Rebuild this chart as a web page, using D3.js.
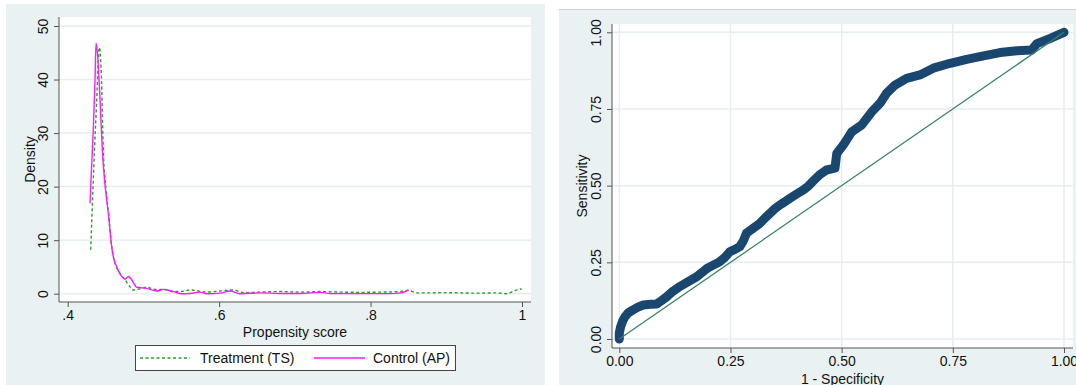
<!DOCTYPE html>
<html>
<head>
<meta charset="utf-8">
<script src="https://cdn.jsdelivr.net/npm/d3@7"></script>
<style>
  body { margin: 0; background: #fff; }
  svg { display: block; font-family: "Liberation Sans", Arial, sans-serif; }
</style>
</head>
<body>
<svg id="chart" width="1076" height="385"></svg>
<script>
// left panel: kernel density of propensity score
const treatScore = [0.4304, 0.4328, 0.4354, 0.4384, 0.4417, 0.4444, 0.4470, 0.4506, 0.4539, 0.4581,
  0.4625, 0.4691, 0.4757, 0.4823, 0.4863, 0.4915, 0.5044, 0.5153, 0.5263, 0.5395, 0.5497, 0.5616,
  0.5836, 0.6012, 0.6188, 0.6320, 0.654, 0.6805, 0.707, 0.7333, 0.76, 0.786, 0.8127, 0.8392, 0.85,
  0.861, 0.8786, 0.8962, 0.918, 0.9403, 0.9645, 0.98, 0.991, 0.9997];
const treatDensity = [8.2, 17.5, 26.9, 36.3, 46.0, 41.0, 26.9, 19.4, 15.1, 8.8,
  5.7, 3.8, 2.6, 1.25, 0.7, 0.8, 1.2, 0.8, 0.8, 0.4, 0.4, 0.7,
  0.3, 0.5, 0.7, 0.2, 0.3, 0.4, 0.3, 0.4, 0.3, 0.25, 0.3, 0.4, 0.6,
  0.15, 0.15, 0.2, 0.15, 0.1, 0.15, 0, 0.6, 0.9];

const ctrlScore = [0.4295, 0.4314, 0.4338, 0.4361, 0.4374, 0.4394, 0.4427, 0.4457, 0.4486, 0.4515,
  0.4536, 0.4581, 0.4612, 0.4647, 0.4713, 0.4757, 0.4801, 0.4845, 0.4911, 0.5044, 0.5176, 0.5263,
  0.5395, 0.5506, 0.5616, 0.5748, 0.5836, 0.6012, 0.6144, 0.6276, 0.654, 0.6805, 0.707, 0.7335,
  0.7465, 0.786, 0.826, 0.841, 0.85];
const ctrlDensity = [16.9, 23.2, 30.7, 40.0, 46.8, 44.7, 36.3, 26.9, 21.3, 17.5,
  15.1, 8.8, 6.3, 5.05, 3.2, 2.7, 3.2, 2.6, 1.2, 1.0, 0.5, 0.8,
  0.4, 0, 0.05, 0.3, 0, 0.1, 0.5, 0, 0.15, 0.05, 0.05, 0.25,
  0.05, 0.02, 0.02, 0.15, 0.7];

const densityTicks = [0, 10, 20, 30, 40, 50];
const scoreTicks = [0.4, 0.6, 0.8, 1];
const scoreTickLabels = [".4", ".6", ".8", "1"];
const legendLabels = ["Treatment (TS)", "Control (AP)"];

// right panel: ROC curve
const rocFpr = [0, 0, 0.003, 0.008, 0.013, 0.02, 0.031, 0.042, 0.054, 0.07, 0.084, 0.095, 0.107,
  0.12, 0.136, 0.155, 0.174, 0.186, 0.197, 0.21, 0.226, 0.238, 0.249, 0.26, 0.271, 0.279, 0.286,
  0.3, 0.316, 0.328, 0.339, 0.35, 0.361, 0.372, 0.384, 0.398, 0.414, 0.426, 0.438, 0.45, 0.466,
  0.485, 0.489, 0.504, 0.523, 0.545, 0.568, 0.586, 0.601, 0.62, 0.646, 0.676, 0.706, 0.744,
  0.781, 0.819, 0.856, 0.894, 0.927, 0.939, 0.969, 1];
const rocSens = [0, 0.02, 0.04, 0.06, 0.073, 0.085, 0.095, 0.104, 0.111, 0.113, 0.114, 0.125, 0.138,
  0.155, 0.171, 0.187, 0.203, 0.217, 0.23, 0.24, 0.252, 0.267, 0.285, 0.292, 0.301, 0.32, 0.345,
  0.36, 0.377, 0.395, 0.41, 0.425, 0.437, 0.447, 0.459, 0.472, 0.486, 0.5, 0.518, 0.535, 0.551,
  0.557, 0.605, 0.633, 0.676, 0.698, 0.741, 0.768, 0.801, 0.828, 0.85, 0.861, 0.883, 0.899,
  0.912, 0.923, 0.934, 0.94, 0.942, 0.963, 0.98, 1];
const rocTicks = [0, 0.25, 0.5, 0.75, 1];

const bgColor = "#e9f1f3";
const gridColor = "#e6eef0";
const axisColor = "#555";
const fontSize = 14;

const svg = d3.select("#chart");

// ---------- left panel ----------
svg.append("rect").attr("x", 6).attr("y", 4).attr("width", 539).attr("height", 381).attr("fill", bgColor);

const L = { left: 59, right: 531, top: 17, bottom: 302 };
svg.append("rect")
  .attr("x", L.left).attr("y", L.top)
  .attr("width", L.right - L.left).attr("height", L.bottom - L.top)
  .attr("fill", "#fff");

const xL = d3.scaleLinear().domain([0.4, 1]).range([67.7, 522]);
const yL = d3.scaleLinear().domain([0, 50]).range([293.7, 26]);

svg.append("g")
  .selectAll("line")
  .data(densityTicks)
  .join("line")
  .attr("x1", L.left).attr("x2", L.right)
  .attr("y1", (d) => yL(d)).attr("y2", (d) => yL(d))
  .attr("stroke", gridColor).attr("stroke-width", 1.5);

const yAxisL = (g) =>
  g
    .attr("transform", `translate(${L.left},0)`)
    .call(d3.axisLeft(yL).tickValues(densityTicks).tickSize(5).tickPadding(0).tickFormat(d3.format("d")))
    .call((g) => g.select(".domain").attr("d", `M0,${L.top}V${L.bottom}`))
    .call((g) =>
      g.selectAll(".tick text")
        .attr("x", 0).attr("dy", null)
        .attr("transform", "translate(-11,0) rotate(-90)")
        .attr("text-anchor", "middle")
        .style("font-size", fontSize + "px")
    );

const xAxisL = (g) =>
  g
    .attr("transform", `translate(0,${L.bottom})`)
    .call(d3.axisBottom(xL).tickValues(scoreTicks).tickSize(5).tickPadding(3)
      .tickFormat((d, i) => scoreTickLabels[i]))
    .call((g) => g.select(".domain").attr("d", `M${L.left},0H${L.right}`))
    .call((g) => g.selectAll(".tick text").style("font-size", fontSize + "px"));

svg.append("g").call(yAxisL);
svg.append("g").call(xAxisL);
svg.selectAll(".domain, .tick line").attr("stroke", axisColor);
svg.selectAll(".tick text").attr("fill", "#111");

svg.append("text")
  .attr("transform", `translate(35,${(L.top + L.bottom) / 2}) rotate(-90)`)
  .attr("text-anchor", "middle").attr("font-size", fontSize).attr("fill", "#111")
  .text("Density");
svg.append("text")
  .attr("x", (L.left + L.right) / 2).attr("y", 336.5)
  .attr("text-anchor", "middle").attr("font-size", fontSize).attr("fill", "#111")
  .text("Propensity score");

const densLine = d3.line().x((d) => xL(d[0])).y((d) => yL(d[1])).curve(d3.curveMonotoneX);

svg.append("path")
  .datum(treatScore.map((s, i) => [s, treatDensity[i]]))
  .attr("fill", "none").attr("stroke", "#2c9a2c").attr("stroke-width", 1.4)
  .attr("stroke-dasharray", "3,2.5")
  .attr("d", densLine);

svg.append("path")
  .datum(ctrlScore.map((s, i) => [s, ctrlDensity[i]]))
  .attr("fill", "none").attr("stroke", "#ff1aff").attr("stroke-width", 1.4)
  .attr("d", densLine);

// legend
const legend = svg.append("g");
legend.append("rect")
  .attr("x", 135.5).attr("y", 345.5).attr("width", 320).attr("height", 25)
  .attr("fill", "#fff").attr("stroke", "#444").attr("stroke-width", 1);
legend.append("line").attr("x1", 140).attr("x2", 190).attr("y1", 358).attr("y2", 358)
  .attr("stroke", "#2c9a2c").attr("stroke-width", 1.4).attr("stroke-dasharray", "3,2.5");
legend.append("text").attr("x", 200).attr("y", 363).attr("font-size", fontSize).attr("fill", "#111")
  .text(legendLabels[0]);
legend.append("line").attr("x1", 314).attr("x2", 365).attr("y1", 358).attr("y2", 358)
  .attr("stroke", "#ff1aff").attr("stroke-width", 1.4);
legend.append("text").attr("x", 373).attr("y", 363).attr("font-size", fontSize).attr("fill", "#111")
  .text(legendLabels[1]);

// ---------- right panel ----------
svg.append("rect").attr("x", 559).attr("y", 9).attr("width", 517).attr("height", 376).attr("fill", bgColor);
svg.append("line").attr("x1", 559).attr("x2", 1076).attr("y1", 9.5).attr("y2", 9.5)
  .attr("stroke", "#c8cccd").attr("stroke-width", 1);

const R = { left: 612, right: 1073, top: 24, bottom: 348 };
svg.append("rect")
  .attr("x", R.left).attr("y", R.top)
  .attr("width", R.right - R.left).attr("height", R.bottom - R.top)
  .attr("fill", "#fff");

const xR = d3.scaleLinear().domain([0, 1]).range([619.3, 1064]);
const yR = d3.scaleLinear().domain([0, 1]).range([339, 32.3]);

const gridR = svg.append("g");
gridR.selectAll("line.h")
  .data(rocTicks)
  .join("line")
  .attr("class", "h")
  .attr("x1", R.left).attr("x2", R.right)
  .attr("y1", (d) => yR(d)).attr("y2", (d) => yR(d))
  .attr("stroke", gridColor).attr("stroke-width", 1.5);
gridR.selectAll("line.v")
  .data(rocTicks)
  .join("line")
  .attr("class", "v")
  .attr("y1", R.top).attr("y2", R.bottom)
  .attr("x1", (d) => xR(d)).attr("x2", (d) => xR(d))
  .attr("stroke", gridColor).attr("stroke-width", 1.5);

const yAxisR = (g) =>
  g
    .attr("transform", `translate(${R.left},0)`)
    .call(d3.axisLeft(yR).tickValues(rocTicks).tickSize(5).tickFormat(d3.format(".2f")))
    .call((g) => g.select(".domain").attr("d", `M0,${R.top}V${R.bottom}`))
    .call((g) =>
      g.selectAll(".tick text")
        .attr("x", 0).attr("dy", null)
        .attr("transform", "translate(-11,0) rotate(-90)")
        .attr("text-anchor", "middle")
        .style("font-size", fontSize + "px")
    );

const xAxisR = (g) =>
  g
    .attr("transform", `translate(0,${R.bottom})`)
    .call(d3.axisBottom(xR).tickValues(rocTicks).tickSize(5).tickPadding(3).tickFormat(d3.format(".2f")))
    .call((g) => g.select(".domain").attr("d", `M${R.left},0H${R.right}`))
    .call((g) => g.selectAll(".tick text").style("font-size", fontSize + "px"));

const gyR = svg.append("g").call(yAxisR);
const gxR = svg.append("g").call(xAxisR);
[gyR, gxR].forEach((g) => {
  g.selectAll(".domain, .tick line").attr("stroke", axisColor);
  g.selectAll(".tick text").attr("fill", "#111");
});

svg.append("text")
  .attr("transform", `translate(587,${(R.top + R.bottom) / 2}) rotate(-90)`)
  .attr("text-anchor", "middle").attr("font-size", fontSize).attr("fill", "#111")
  .text("Sensitivity");
svg.append("text")
  .attr("x", (R.left + R.right) / 2).attr("y", 384)
  .attr("text-anchor", "middle").attr("font-size", fontSize).attr("fill", "#111")
  .text("1 - Specificity");

const rocLine = d3.line().x((d) => xR(d[0])).y((d) => yR(d[1]));

svg.append("path")
  .datum(rocFpr.map((f, i) => [f, rocSens[i]]))
  .attr("fill", "none").attr("stroke", "#1a476f").attr("stroke-width", 9)
  .attr("stroke-linejoin", "round").attr("stroke-linecap", "round")
  .attr("d", rocLine);

svg.append("path")
  .datum([[0, 0], [1, 1]])
  .attr("fill", "none").attr("stroke", "#3a8070").attr("stroke-width", 1.3)
  .attr("d", rocLine);
</script>
</body>
</html>
